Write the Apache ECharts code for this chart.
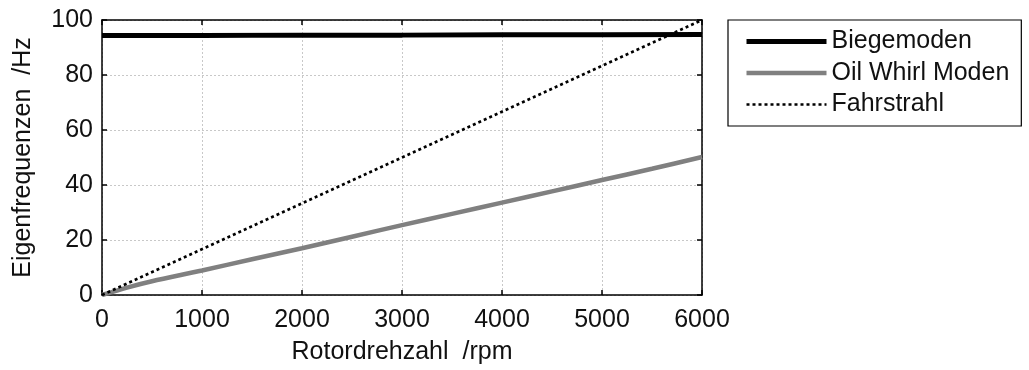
<!DOCTYPE html>
<html>
<head>
<meta charset="utf-8">
<script src="https://cdn.jsdelivr.net/npm/echarts@6/dist/echarts.min.js"></script>
<style>html,body{margin:0;padding:0;background:#fff;}#c{width:1029px;height:370px;}</style>
</head>
<body>
<div id="c"></div>
<script>
const rpmBiege = [0, 1000, 2000, 3000, 4000, 5000, 6000];
const biegemoden = [94.4, 94.4, 94.5, 94.5, 94.6, 94.6, 94.7];
const rpmOil = [0, 250, 500, 1000, 1500, 2000, 2500, 3000, 3500, 4000, 4500, 5000, 5500, 6000];
const oilWhirl = [0, 2.7, 5.0, 8.9, 13.0, 17.0, 21.2, 25.4, 29.5, 33.6, 37.7, 41.8, 45.9, 50.2];
const rpmFahr = [0, 6000];
const fahrstrahl = [0, 100];
const xTicks = [0, 1000, 2000, 3000, 4000, 5000, 6000];
const yTicks = [0, 20, 40, 60, 80, 100];
const seriesNames = ['Biegemoden', 'Oil Whirl Moden', 'Fahrstrahl'];
const xTitle = 'Rotordrehzahl  /rpm';
const yTitle = 'Eigenfrequenzen  /Hz';

const pair = (xs, ys) => xs.map((x, i) => [x, ys[i]]);
const font = 'Liberation Sans, Arial, sans-serif';
const FS = 25;
const txt = '#111';
const chart = echarts.init(document.getElementById('c'), null, {renderer: 'canvas'});
const axisCommon = {
  axisLine: {show: true, onZero: false, lineStyle: {color: '#000', width: 1.5}},
  axisTick: {show: true, inside: true, length: 5, lineStyle: {color: '#000', width: 1.5}}
};
chart.setOption({
  animation: false,
  backgroundColor: '#fff',
  grid: {left: 102, right: 327, top: 20, bottom: 73, containLabel: false},
  legend: {
    left: 728, top: 20, orient: 'vertical',
    backgroundColor: '#fff', borderColor: '#000', borderWidth: 1.2,
    padding: [9, 12, 9, 16],
    itemWidth: 80, itemHeight: 25, itemGap: 6.5,
    itemStyle: {opacity: 0},
    lineStyle: {width: 'inherit'},
    textStyle: {fontFamily: font, fontSize: FS, color: txt},
    data: seriesNames
  },
  xAxis: [{
    type: 'value', min: xTicks[0], max: xTicks[xTicks.length - 1], interval: 1000,
    name: xTitle, nameLocation: 'middle', nameGap: 45,
    nameTextStyle: {fontFamily: font, fontSize: FS, color: txt},
    axisLabel: {fontFamily: font, fontSize: FS, color: txt, margin: 13, formatter: v => String(v)},
    splitLine: {show: true, lineStyle: {color: '#c8c8c8', type: [2, 2], width: 1}},
    ...axisCommon
  }, {
    type: 'value', position: 'top', min: xTicks[0], max: xTicks[xTicks.length - 1], interval: 1000,
    axisLabel: {show: false}, splitLine: {show: false}, ...axisCommon
  }],
  yAxis: [{
    type: 'value', min: yTicks[0], max: yTicks[yTicks.length - 1], interval: 20,
    name: yTitle, nameLocation: 'middle', nameGap: 66, nameRotate: 90,
    nameTextStyle: {fontFamily: font, fontSize: FS, color: txt},
    axisLabel: {fontFamily: font, fontSize: FS, color: txt, margin: 9, formatter: v => String(v)},
    splitLine: {show: true, lineStyle: {color: '#c8c8c8', type: [2, 2], width: 1}},
    ...axisCommon
  }, {
    type: 'value', position: 'right', min: yTicks[0], max: yTicks[yTicks.length - 1], interval: 20,
    axisLabel: {show: false}, splitLine: {show: false}, ...axisCommon
  }],
  series: [{
    name: seriesNames[0], type: 'line', showSymbol: false, symbol: 'none',
    data: pair(rpmBiege, biegemoden),
    lineStyle: {color: '#000', width: 5}, itemStyle: {color: '#000'}, z: 3
  }, {
    name: seriesNames[1], type: 'line', showSymbol: false, symbol: 'none', smooth: 0.3,
    data: pair(rpmOil, oilWhirl),
    lineStyle: {color: '#808080', width: 4.5}, itemStyle: {color: '#808080'}, z: 2
  }, {
    name: seriesNames[2], type: 'line', showSymbol: false, symbol: 'none',
    data: pair(rpmFahr, fahrstrahl),
    lineStyle: {color: '#000', width: 2.5, type: [3, 3]}, itemStyle: {color: '#000'}, z: 4
  }]
});
</script>
</body>
</html>
